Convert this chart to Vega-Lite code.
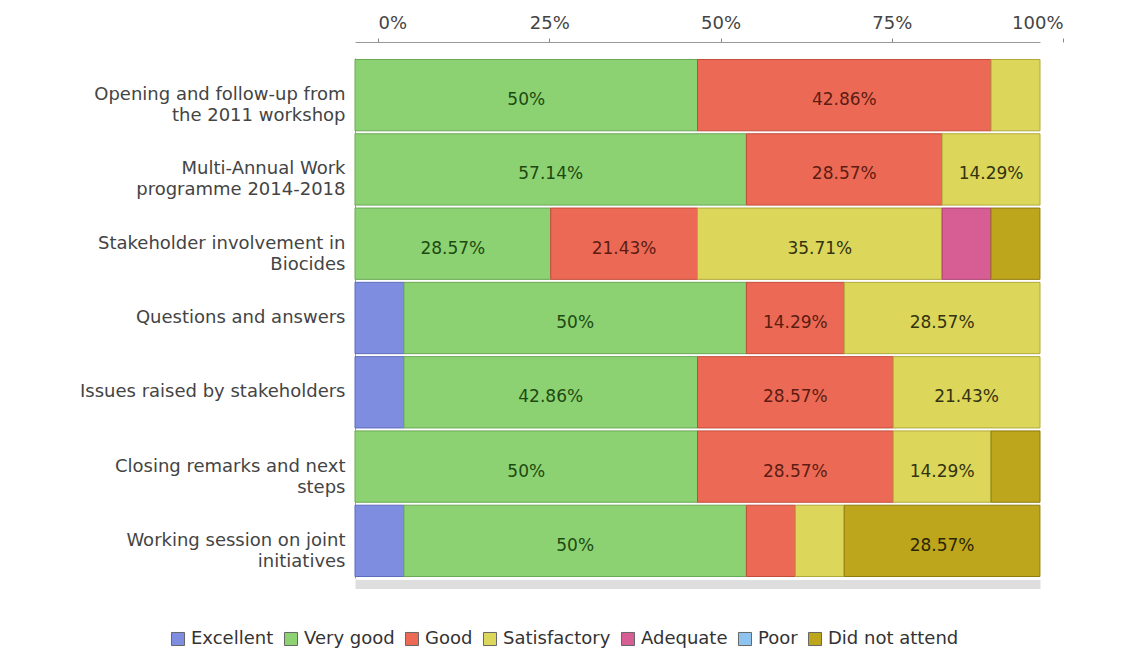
{
  "$schema": "https://vega.github.io/schema/vega-lite/v6.json",
  "width": 685,
  "height": 520,
  "autosize": {"type": "none"},
  "padding": {"left": 355, "top": 58, "right": 84, "bottom": 71},
  "background": "white",
  "config": {
    "view": {"stroke": null},
    "font": "DejaVu Sans"
  },
  "data": {
    "values": [
      {"q": "Opening and follow-up from|the 2011 workshop", "r": "Very good", "k": 2, "v": 0.5},
      {"q": "Opening and follow-up from|the 2011 workshop", "r": "Good", "k": 3, "v": 0.4286},
      {"q": "Opening and follow-up from|the 2011 workshop", "r": "Satisfactory", "k": 4, "v": 0.0714},
      {"q": "Multi-Annual Work|programme 2014-2018", "r": "Very good", "k": 2, "v": 0.5714},
      {"q": "Multi-Annual Work|programme 2014-2018", "r": "Good", "k": 3, "v": 0.2857},
      {"q": "Multi-Annual Work|programme 2014-2018", "r": "Satisfactory", "k": 4, "v": 0.1429},
      {"q": "Stakeholder involvement in|Biocides", "r": "Very good", "k": 2, "v": 0.2857},
      {"q": "Stakeholder involvement in|Biocides", "r": "Good", "k": 3, "v": 0.2143},
      {"q": "Stakeholder involvement in|Biocides", "r": "Satisfactory", "k": 4, "v": 0.3571},
      {"q": "Stakeholder involvement in|Biocides", "r": "Adequate", "k": 5, "v": 0.0714},
      {"q": "Stakeholder involvement in|Biocides", "r": "Did not attend", "k": 7, "v": 0.0714},
      {"q": "Questions and answers", "r": "Excellent", "k": 1, "v": 0.0714},
      {"q": "Questions and answers", "r": "Very good", "k": 2, "v": 0.5},
      {"q": "Questions and answers", "r": "Good", "k": 3, "v": 0.1429},
      {"q": "Questions and answers", "r": "Satisfactory", "k": 4, "v": 0.2857},
      {"q": "Issues raised by stakeholders", "r": "Excellent", "k": 1, "v": 0.0714},
      {"q": "Issues raised by stakeholders", "r": "Very good", "k": 2, "v": 0.4286},
      {"q": "Issues raised by stakeholders", "r": "Good", "k": 3, "v": 0.2857},
      {"q": "Issues raised by stakeholders", "r": "Satisfactory", "k": 4, "v": 0.2143},
      {"q": "Closing remarks and next|steps", "r": "Very good", "k": 2, "v": 0.5},
      {"q": "Closing remarks and next|steps", "r": "Good", "k": 3, "v": 0.2857},
      {"q": "Closing remarks and next|steps", "r": "Satisfactory", "k": 4, "v": 0.1429},
      {"q": "Closing remarks and next|steps", "r": "Did not attend", "k": 7, "v": 0.0714},
      {"q": "Working session on joint|initiatives", "r": "Excellent", "k": 1, "v": 0.0714},
      {"q": "Working session on joint|initiatives", "r": "Very good", "k": 2, "v": 0.5},
      {"q": "Working session on joint|initiatives", "r": "Good", "k": 3, "v": 0.0714},
      {"q": "Working session on joint|initiatives", "r": "Satisfactory", "k": 4, "v": 0.0714},
      {"q": "Working session on joint|initiatives", "r": "Did not attend", "k": 7, "v": 0.2857}
    ]
  },
  "encoding": {
    "y": {
      "field": "q",
      "type": "nominal",
      "sort": null,
      "title": null,
      "scale": {"paddingInner": 0.04, "paddingOuter": 0.02},
      "axis": {
        "labelExpr": "split(datum.label, '|')",
        "labelFontSize": 18,
        "labelColor": "#444444",
        "labelLineHeight": 21,
        "labelLimit": 400,
        "labelPadding": 10,
        "ticks": false,
        "domainColor": "#9a9a9a"
      }
    },
    "order": {"field": "k", "type": "quantitative"}
  },
  "layer": [
    {
      "mark": {"type": "bar", "strokeWidth": 1},
      "encoding": {
        "x": {
          "field": "v",
          "type": "quantitative",
          "stack": "zero",
          "scale": {"domain": [0, 1], "nice": false},
          "title": null,
          "axis": {
            "orient": "top",
            "format": ".0%",
            "values": [0, 0.25, 0.5, 0.75, 1],
            "grid": false,
            "offset": 16,
            "tickOffset": 23,
            "tickSize": 4,
            "tickColor": "#888888",
            "domainColor": "#999999",
            "labelFontSize": 18,
            "labelColor": "#444444",
            "labelPadding": 6
          }
        },
        "fill": {
          "field": "r",
          "type": "nominal",
          "scale": {
            "domain": ["Excellent", "Very good", "Good", "Satisfactory", "Adequate", "Poor", "Did not attend"],
            "range": ["#7f8de0", "#8cd273", "#ec6a55", "#dcd65a", "#d65e94", "#8fc3ef", "#bda51c"]
          },
          "legend": {
            "title": null,
            "orient": "none",
            "direction": "horizontal",
            "legendX": -186,
            "legendY": 572,
            "symbolType": "square",
            "symbolSize": 170,
            "symbolStrokeColor": "#666666",
            "symbolStrokeWidth": 1,
            "labelFontSize": 18,
            "labelColor": "#333333",
            "labelOffset": 4,
            "columnPadding": 8,
            "labelLimit": 300
          }
        },
        "stroke": {
          "field": "r",
          "type": "nominal",
          "scale": {
            "domain": ["Excellent", "Very good", "Good", "Satisfactory", "Adequate", "Poor", "Did not attend"],
            "range": ["#5d6bbd", "#6aa854", "#c44c3a", "#b0aa3a", "#ad3f72", "#6a9ccc", "#8f7c0c"]
          },
          "legend": null
        }
      }
    },
    {
      "mark": {"type": "text", "fontSize": 17, "dy": 5},
      "encoding": {
        "x": {
          "field": "v",
          "type": "quantitative",
          "stack": "zero",
          "bandPosition": 0.5,
          "title": null,
          "axis": {
            "orient": "bottom",
            "labels": false,
            "ticks": false,
            "grid": false,
            "domainColor": "#dedede",
            "domainWidth": 9,
            "offset": 6
          }
        },
        "text": {
          "condition": {"test": "datum.v > 0.1", "field": "v", "type": "quantitative", "format": ".2~%"},
          "value": ""
        },
        "fill": {
          "field": "r",
          "type": "nominal",
          "scale": {
            "domain": ["Excellent", "Very good", "Good", "Satisfactory", "Adequate", "Poor", "Did not attend"],
            "range": ["#1c2560", "#1d4a10", "#5c1c12", "#333310", "#5a1030", "#1c3a5a", "#2a2505"]
          },
          "legend": null
        }
      }
    }
  ],
  "resolve": {"scale": {"fill": "independent"}, "axis": {"x": "independent"}}
}
